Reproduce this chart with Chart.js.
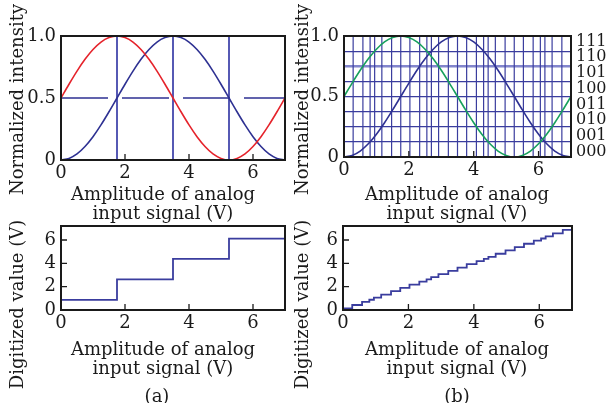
<!DOCTYPE html>
<html>
<head>
<meta charset="utf-8">
<script src="https://cdn.jsdelivr.net/npm/chart.js@4.4.1/dist/chart.umd.min.js"></script>
<style>
body { margin: 0; background: #fff; width: 608px; height: 403px; position: relative; overflow: hidden; font-family: "DejaVu Serif", serif; color: #1a1a1a; }
.box { position: absolute; }
.t { position: absolute; font-size: 18px; line-height: 19px; text-align: center; white-space: nowrap; }
.v { width: 220px; height: 19px; transform: rotate(-90deg); }
.h { width: 300px; }
</style>
</head>
<body>
<div class="box" style="left:0;top:0;width:300px;height:200px"><canvas id="topA"></canvas></div>
<div class="box" style="left:300px;top:0;width:308px;height:200px"><canvas id="topB"></canvas></div>
<div class="box" style="left:0;top:200px;width:300px;height:135px"><canvas id="botA"></canvas></div>
<div class="box" style="left:300px;top:200px;width:308px;height:135px"><canvas id="botB"></canvas></div>

<div class="t v" style="left:-94px;top:90px">Normalized intensity</div>
<div class="t v" style="left:191px;top:90px">Normalized intensity</div>
<div class="t v" style="left:-94px;top:295px">Digitized value (V)</div>
<div class="t v" style="left:191px;top:295px">Digitized value (V)</div>

<div class="t h" style="left:13px;top:184px">Amplitude of analog<br>input signal (V)</div>
<div class="t h" style="left:307px;top:184px">Amplitude of analog<br>input signal (V)</div>
<div class="t h" style="left:13px;top:339px">Amplitude of analog<br>input signal (V)</div>
<div class="t h" style="left:307px;top:339px">Amplitude of analog<br>input signal (V)</div>
<div class="t h" style="left:7px;top:386px">(a)</div>
<div class="t h" style="left:307px;top:386px">(b)</div>

<script>
// данные
const curveX = [0, 0.25, 0.5, 0.75, 1, 1.25, 1.5, 1.75, 2, 2.25, 2.5, 2.75, 3, 3.25, 3.5,
    3.75, 4, 4.25, 4.5, 4.75, 5, 5.25, 5.5, 5.75, 6, 6.25, 6.5, 6.75, 7];
const redCurve = [0.5, 0.611, 0.717, 0.812, 0.891, 0.951, 0.987, 1.0, 0.987, 0.951, 0.891, 0.812, 0.717, 0.611, 0.5,
    0.389, 0.283, 0.188, 0.109, 0.049, 0.013, 0, 0.013, 0.049, 0.109, 0.188, 0.283, 0.389, 0.5];
const blueCurve = [0, 0.013, 0.049, 0.109, 0.188, 0.283, 0.389, 0.5, 0.611, 0.717, 0.812, 0.891, 0.951, 0.987, 1.0,
    0.987, 0.951, 0.891, 0.812, 0.717, 0.611, 0.5, 0.389, 0.283, 0.188, 0.109, 0.049, 0.013, 0];

const xTicks = [0, 2, 4, 6];
const digitTicks = [0, 2, 4, 6];
const intensityTicks = [0, 0.5, 1];

// (a): два уровня, 4 ступени
const dividersA = [1.75, 3.5, 5.25];
const halfLevel = 0.5;
const stepEdgesA = [0, 1.75, 3.5, 5.25];
const stepValuesA = [0.875, 2.625, 4.375, 6.125];

// (b): 3 бита, 8 уровней
const levelsB = [0, 0.125, 0.25, 0.375, 0.5, 0.625, 0.75, 0.875, 1];
const codeLabels = ['000', '001', '010', '011', '100', '101', '110', '111'];
const crossingsB = [0.282, 0.583, 0.805, 0.945, 1.167, 1.468, 1.75, 2.032, 2.333, 2.555, 2.695, 2.917, 3.218, 3.5,
    3.782, 4.083, 4.305, 4.445, 4.667, 4.968, 5.25, 5.532, 5.833, 6.055, 6.195, 6.417, 6.718];
const stepValuesB = [0.14, 0.43, 0.69, 0.88, 1.06, 1.32, 1.61, 1.89, 2.18, 2.44, 2.63, 2.81, 3.07, 3.36,
    3.64, 3.93, 4.19, 4.38, 4.56, 4.82, 5.11, 5.39, 5.68, 5.94, 6.13, 6.31, 6.57, 6.86];

const xMax = 7;
const digitMax = 7.2;

const RED = '#e5232b';
const BLUE = '#2e3192';
const GREEN = '#17a05c';
const LINE_BLUE = '#3a3d9e';
const INK = '#1a1a1a';

Chart.defaults.font.family = '"DejaVu Serif", serif';
Chart.defaults.font.size = 18;
Chart.defaults.color = INK;
Chart.defaults.animation = false;
Chart.defaults.events = [];

function zip(xs, ys) {
    return ys.map((y, i) => ({ x: xs[i], y: y }));
}

function stepPoints(edges, values) {
    const pts = values.map((v, i) => ({ x: edges[i], y: v }));
    pts.push({ x: xMax, y: values[values.length - 1] });
    return pts;
}

function curve(data, color) {
    return { data: data, borderColor: color, borderWidth: 1.6, pointRadius: 0, cubicInterpolationMode: 'monotone' };
}

function vline(x, top, color, width) {
    return { data: [{ x: x, y: 0 }, { x: x, y: top }], borderColor: color, borderWidth: width, pointRadius: 0 };
}

function steps(data) {
    // 'before': сначала горизонталь на прежнем уровне, потом вертикаль
    return { data: data, stepped: 'before', borderColor: LINE_BLUE, borderWidth: 1.8, pointRadius: 0 };
}

// рамка и внутренние засечки
const framePlugin = {
    id: 'frame',
    afterDatasetsDraw(chart, args, opts) {
        const { ctx, chartArea: a, scales } = chart;
        ctx.save();
        ctx.strokeStyle = INK;
        ctx.lineWidth = 1.3;
        ctx.beginPath();
        (opts.xTicks || []).forEach(v => {
            const px = scales.x.getPixelForValue(v);
            ctx.moveTo(px, a.bottom);
            ctx.lineTo(px, a.bottom - 6);
        });
        (opts.yTicks || []).forEach(v => {
            const py = scales.y.getPixelForValue(v);
            ctx.moveTo(a.left, py);
            ctx.lineTo(a.left + 6, py);
        });
        ctx.stroke();
        ctx.lineWidth = 2;
        ctx.strokeRect(a.left, a.top, a.right - a.left, a.bottom - a.top);
        ctx.restore();
    }
};

function xScale(height, pad) {
    return {
        type: 'linear', min: 0, max: xMax,
        grid: { display: false, drawTicks: false }, border: { display: false },
        afterBuildTicks: s => { s.ticks = xTicks.map(v => ({ value: v })); },
        ticks: { padding: pad, maxRotation: 0, autoSkip: false },
        afterFit: s => { s.height = height; }
    };
}

function yScale(max, ticks, width, fmt) {
    return {
        type: 'linear', min: 0, max: max,
        grid: { display: false, drawTicks: false }, border: { display: false },
        afterBuildTicks: s => { s.ticks = ticks.map(v => ({ value: v })); },
        ticks: { padding: 5, autoSkip: false, callback: fmt },
        afterFit: s => { s.width = width; }
    };
}

const fmtIntensity = v => (v === 0 ? '0' : v.toFixed(1));
const fmtDigit = v => String(v);

function baseOptions(padding, scales, frame) {
    return {
        responsive: true,
        maintainAspectRatio: false,
        layout: { padding: padding },
        plugins: { legend: { display: false }, tooltip: { enabled: false }, frame: frame },
        scales: scales
    };
}

// верхний (a)
new Chart(document.getElementById('topA'), {
    type: 'line',
    data: {
        datasets: [
            curve(zip(curveX, redCurve), RED),
            curve(zip(curveX, blueCurve), BLUE),
            { data: [{ x: 0, y: halfLevel }, { x: xMax, y: halfLevel }], borderColor: BLUE, borderWidth: 1.5,
              borderDash: [47, 14], pointRadius: 0 },
            ...dividersA.map(x => vline(x, 1, '#5659b4', 2))
        ]
    },
    options: baseOptions({ left: 0, right: 15, top: 36, bottom: 0 }, {
        x: xScale(40, 3),
        y: yScale(1, intensityTicks, 61, fmtIntensity)
    }, { xTicks: [2, 4, 6] }),
    plugins: [framePlugin]
});

// верхний (b)
const topBScales = {
    x: xScale(43, 3),
    y: {
        type: 'linear', min: 0, max: 1,
        border: { display: false },
        grid: {
            drawTicks: false,
            color: c => (c.tick && c.tick.value === 0.75 ? '#8285cc' : LINE_BLUE),
            lineWidth: c => (c.tick && c.tick.value === 0.75 ? 2.5 : 1.2)
        },
        afterBuildTicks: s => { s.ticks = levelsB.map(v => ({ value: v })); },
        ticks: { padding: 5, autoSkip: false,
                 callback: v => (intensityTicks.includes(v) ? fmtIntensity(v) : '') },
        afterFit: s => { s.width = 44; }
    },
    codes: {
        type: 'linear', position: 'right', min: 0, max: 1,
        grid: { display: false, drawTicks: false }, border: { display: false },
        afterBuildTicks: s => { s.ticks = codeLabels.map((c, i) => ({ value: 0.045 + i * 0.13 })); },
        ticks: { padding: 5, autoSkip: false, font: { size: 16 }, callback: (v, i) => codeLabels[i] },
        afterFit: s => { s.width = 37; }
    }
};

new Chart(document.getElementById('topB'), {
    type: 'line',
    data: {
        datasets: [
            curve(zip(curveX, redCurve), GREEN),
            curve(zip(curveX, blueCurve), BLUE),
            ...crossingsB.map(x => vline(x, 1, LINE_BLUE, 1.2))
        ]
    },
    options: baseOptions({ left: 0, right: 0, top: 36, bottom: 0 }, topBScales, { xTicks: [2, 4, 6] }),
    plugins: [framePlugin]
});

// нижний (a)
new Chart(document.getElementById('botA'), {
    type: 'line',
    data: { datasets: [steps(stepPoints(stepEdgesA, stepValuesA))] },
    options: baseOptions({ left: 0, right: 15, top: 26, bottom: 0 }, {
        x: xScale(25, 3),
        y: yScale(digitMax, digitTicks, 61, fmtDigit)
    }, { xTicks: [2, 4, 6], yTicks: [2, 4, 6] }),
    plugins: [framePlugin]
});

// нижний (b)
new Chart(document.getElementById('botB'), {
    type: 'line',
    data: { datasets: [steps(stepPoints([0].concat(crossingsB), stepValuesB))] },
    options: baseOptions({ left: 0, right: 36, top: 26, bottom: 0 }, {
        x: xScale(25, 3),
        y: yScale(digitMax, digitTicks, 43, fmtDigit)
    }, { xTicks: [2, 4, 6], yTicks: [2, 4, 6] }),
    plugins: [framePlugin]
});
</script>
</body>
</html>
